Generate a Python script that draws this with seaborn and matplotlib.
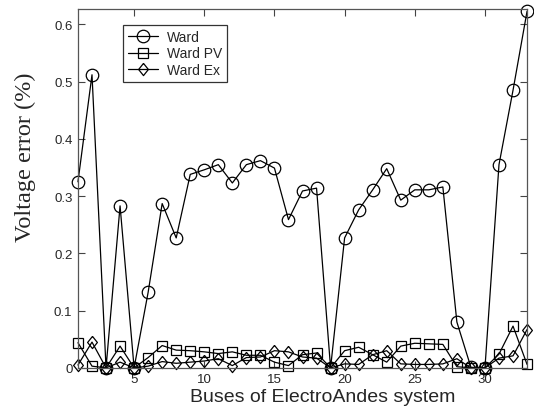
import numpy as np
import pandas as pd
import seaborn as sns
import matplotlib.pyplot as plt

buses = list(range(1, 34))
ward = [0.325, 0.512, 0.0, 0.283, 0.0, 0.132, 0.287, 0.227, 0.338, 0.346,
        0.355, 0.323, 0.355, 0.362, 0.349, 0.259, 0.309, 0.314, 0.0, 0.227,
        0.276, 0.311, 0.348, 0.293, 0.311, 0.311, 0.316, 0.080, 0.001, 0.0,
        0.355, 0.485, 0.623]
ward_pv = [0.044, 0.003, 0.0, 0.038, 0.0, 0.018, 0.039, 0.031, 0.030, 0.028,
           0.025, 0.028, 0.022, 0.022, 0.010, 0.004, 0.023, 0.026, 0.0, 0.030,
           0.036, 0.023, 0.010, 0.038, 0.043, 0.042, 0.041, 0.002, 0.0, 0.0,
           0.024, 0.073, 0.006]
ward_ex = [0.005, 0.045, 0.0, 0.010, 0.0, 0.003, 0.011, 0.008, 0.010, 0.012,
           0.016, 0.004, 0.018, 0.019, 0.030, 0.028, 0.019, 0.017, 0.0, 0.007,
           0.006, 0.023, 0.030, 0.007, 0.006, 0.006, 0.007, 0.016, 0.0, 0.0,
           0.017, 0.021, 0.067]
series_names = ["Ward", "Ward PV", "Ward Ex"]

# diamond a bit narrower than tall, like the original
diamond = [(0, 1), (0.8, 0), (0, -1), (-0.8, 0), (0, 1)]
series_markers = ["o", "s", diamond]
marker_sizes = [9, 6.7, 8.8]

df = pd.DataFrame({"bus": buses, "Ward": ward, "Ward PV": ward_pv, "Ward Ex": ward_ex})
long = df.melt(id_vars="bus", var_name="method", value_name="err")

sns.set_style("ticks")
plt.rcParams["font.family"] = ["Liberation Sans", "DejaVu Sans"]

fig = plt.figure(figsize=(5.34, 4.14), dpi=100)
ax = fig.add_axes([0.146, 0.109, 0.841, 0.867])

# one line per method, open black markers
for name, mk, ms in zip(series_names, series_markers, marker_sizes):
    sub = long[long["method"] == name]
    sns.lineplot(data=sub, x="bus", y="err", ax=ax, color="black", lw=0.9,
                 marker=mk, markersize=ms,
                 markerfacecolor="none", markeredgecolor="black",
                 markeredgewidth=0.9, label=name, clip_on=False)

ax.set_xlim(1, 33)
ax.set_ylim(0, 0.627)
ax.set_xticks([5, 10, 15, 20, 25, 30])
ax.set_yticks([0, 0.1, 0.2, 0.3, 0.4, 0.5, 0.6])
ax.set_yticklabels(["0", "0.1", "0.2", "0.3", "0.4", "0.5", "0.6"])
ax.tick_params(direction="in", top=True, right=True, labelsize=9.5, length=5,
               color="#444444", pad=4)
for s in ax.spines.values():
    s.set_color("#555555")
    s.set_linewidth(0.9)

ax.set_xlabel("Buses of ElectroAndes system", fontsize=14)
ax.xaxis.set_label_coords(0.545, -0.055)
ax.set_ylabel("Voltage error (%)", fontsize=17.5, family=["Liberation Serif", "DejaVu Serif"])
ax.yaxis.set_label_coords(-0.093, 0.59)

leg = ax.legend(loc="upper left", bbox_to_anchor=(0.085, 0.975), fontsize=10,
                frameon=True, fancybox=False, edgecolor="black", handlelength=2.2,
                handletextpad=0.6, borderpad=0.35, labelspacing=0.2)
leg.get_frame().set_linewidth(0.9)

fig.savefig("out.png", dpi=100)
